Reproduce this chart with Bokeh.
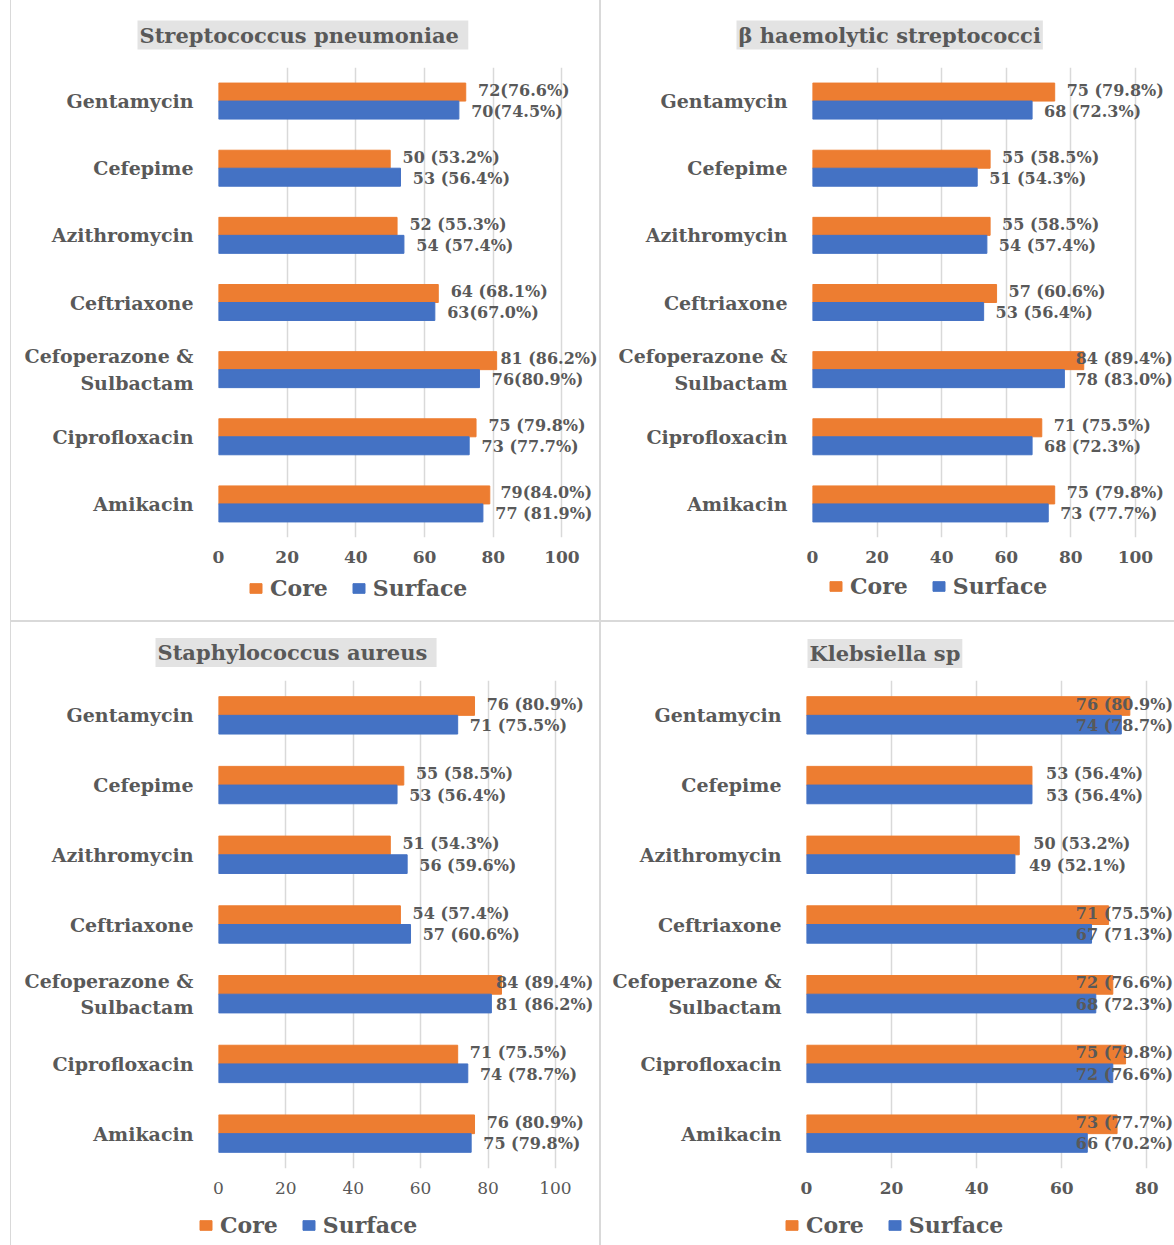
from bokeh.plotting import figure
from bokeh.models import (ColumnDataSource, FactorRange, Range1d, Legend, LegendItem,
                          FixedTicker, Div)
from bokeh.transform import dodge
from bokeh.layouts import row, column
from bokeh.core.properties import value
from bokeh.embed import file_html
from bokeh.resources import INLINE

# ---------------- data ----------------
antibiotics = ["Gentamycin", "Cefepime", "Azithromycin", "Ceftriaxone",
               "Cefoperazone &\nSulbactam", "Ciprofloxacin", "Amikacin"]
series_names = ["Core", "Surface"]

sp_title = "Streptococcus  pneumoniae"
sp_core = [72, 50, 52, 64, 81, 75, 79]
sp_surface = [70, 53, 54, 63, 76, 73, 77]
sp_core_lbl = ["72(76.6%)", "50 (53.2%)", "52 (55.3%)", "64 (68.1%)", "81 (86.2%)", "75 (79.8%)", "79(84.0%)"]
sp_surface_lbl = ["70(74.5%)", "53 (56.4%)", "54 (57.4%)", "63(67.0%)", "76(80.9%)", "73 (77.7%)", "77 (81.9%)"]
sp_ticks = [0, 20, 40, 60, 80, 100]

bh_title = "β haemolytic streptococci"
bh_core = [75, 55, 55, 57, 84, 71, 75]
bh_surface = [68, 51, 54, 53, 78, 68, 73]
bh_core_lbl = ["75 (79.8%)", "55 (58.5%)", "55 (58.5%)", "57 (60.6%)", "84 (89.4%)", "71 (75.5%)", "75 (79.8%)"]
bh_surface_lbl = ["68 (72.3%)", "51 (54.3%)", "54 (57.4%)", "53 (56.4%)", "78 (83.0%)", "68 (72.3%)", "73 (77.7%)"]
bh_ticks = [0, 20, 40, 60, 80, 100]

sa_title = "Staphylococcus  aureus"
sa_core = [76, 55, 51, 54, 84, 71, 76]
sa_surface = [71, 53, 56, 57, 81, 74, 75]
sa_core_lbl = ["76  (80.9%)", "55 (58.5%)", "51 (54.3%)", "54 (57.4%)", "84 (89.4%)", "71 (75.5%)", "76 (80.9%)"]
sa_surface_lbl = ["71 (75.5%)", "53 (56.4%)", "56 (59.6%)", "57 (60.6%)", "81 (86.2%)", "74 (78.7%)", "75 (79.8%)"]
sa_ticks = [0, 20, 40, 60, 80, 100]

kl_title = "Klebsiella sp"
kl_core = [76, 53, 50, 71, 72, 75, 73]
kl_surface = [74, 53, 49, 67, 68, 72, 66]
kl_core_lbl = ["76 (80.9%)", "53 (56.4%)", "50 (53.2%)", "71 (75.5%)", "72 (76.6%)", "75 (79.8%)", "73 (77.7%)"]
kl_surface_lbl = ["74 (78.7%)", "53 (56.4%)", "49 (52.1%)", "67 (71.3%)", "68 (72.3%)", "72 (76.6%)", "66 (70.2%)"]
kl_ticks = [0, 20, 40, 60, 80]

# ---------------- style ----------------
ORANGE = "#ED7D31"
BLUE = "#4472C4"
TXT = "#595959"
GRID = "#D9D9D9"
LINE = "#D9D9D9"
FONT = "DejaVu Serif"


def make_panel(title, core, surface, core_lbl, surf_lbl, ticks, width, height,
               b_left, b_right, b_top, b_bottom, x_end, gap, cap, tick_style,
               title_offset, title_standoff):
    src = ColumnDataSource(dict(
        cat=antibiotics, core=core, surface=surface,
        core_lbl=core_lbl, surf_lbl=surf_lbl,
        core_lx=[min(v + gap, cap) for v in core],
        surf_lx=[min(v + gap, cap) for v in surface],
    ))
    p = figure(width=width, height=height, output_backend="svg", toolbar_location=None,
               y_range=FactorRange(factors=antibiotics[::-1]), x_range=Range1d(0, x_end),
               min_border_left=b_left, min_border_right=b_right,
               min_border_top=b_top, min_border_bottom=b_bottom, title=title)
    p.outline_line_color = None
    p.background_fill_color = "white"
    p.border_fill_color = "white"

    h = 0.268
    p.hbar(y=dodge("cat", h / 2, range=p.y_range), left=0, right="core", height=h,
           color=ORANGE, source=src)
    p.hbar(y=dodge("cat", -h / 2, range=p.y_range), left=0, right="surface", height=h,
           color=BLUE, source=src)
    common = dict(text_font=value(FONT), text_font_style="bold", text_font_size="16px",
                  text_color=TXT, text_baseline="middle", text_align="left", source=src)
    p.text(x="core_lx", y=dodge("cat", h / 2, range=p.y_range), text="core_lbl",
           y_offset=-2, **common)
    p.text(x="surf_lx", y=dodge("cat", -h / 2, range=p.y_range), text="surf_lbl",
           y_offset=1, **common)

    p.xgrid.ticker = FixedTicker(ticks=ticks)
    p.xgrid.grid_line_color = GRID
    p.xgrid.grid_line_width = 1.5
    p.ygrid.grid_line_color = None

    xa = p.xaxis[0]
    xa.ticker = FixedTicker(ticks=ticks)
    xa.axis_line_color = None
    xa.major_tick_line_color = None
    xa.minor_tick_line_color = None
    xa.major_label_text_font = FONT
    xa.major_label_text_font_style = tick_style
    xa.major_label_text_font_size = "17px"
    xa.major_label_text_color = TXT
    xa.major_label_standoff = 7

    ya = p.yaxis[0]
    ya.axis_line_color = None
    ya.major_tick_line_color = None
    ya.minor_tick_line_color = None
    ya.major_label_text_font = FONT
    ya.major_label_text_font_style = "bold"
    ya.major_label_text_font_size = "19px"
    ya.major_label_text_color = TXT
    ya.major_label_standoff = 19

    t = p.title
    t.text_font = FONT
    t.text_font_style = "bold"
    t.text_font_size = "21px"
    t.text_color = TXT
    t.background_fill_color = "#E3E3E3"
    t.align = "left"
    t.offset = title_offset
    t.standoff = title_standoff
    t.padding = 2
    return p


def make_legend(width, height, lx, ly):
    lf = figure(width=width, height=height, output_backend="svg", toolbar_location=None,
                x_range=Range1d(0, 1), y_range=Range1d(0, 1), min_border=0,
                min_border_left=0, min_border_right=0, min_border_top=0, min_border_bottom=0,
                x_axis_location=None, y_axis_location=None)
    lf.outline_line_color = None
    lf.grid.visible = False
    # placeholder renderers (outside the visible range) that only supply legend swatches
    r_core = lf.hbar(y=[-5], left=[0], right=[0], height=0.1, color=ORANGE)
    r_surf = lf.hbar(y=[-5], left=[0], right=[0], height=0.1, color=BLUE)
    legend = Legend(items=[LegendItem(label=series_names[0], renderers=[r_core]),
                           LegendItem(label=series_names[1], renderers=[r_surf])],
                    orientation="horizontal", location=(lx, ly),
                    label_text_font=FONT, label_text_font_style="bold",
                    label_text_font_size="22px", label_text_color=TXT,
                    glyph_width=15, glyph_height=12, label_standoff=7, spacing=23,
                    padding=0, margin=0, border_line_color=None, background_fill_alpha=0)
    lf.add_layout(legend, "center")
    return lf


p1 = make_panel(sp_title, sp_core, sp_surface, sp_core_lbl, sp_surface_lbl, sp_ticks,
                588, 572, 207, 1, 67, 35, 110.66, 3.6, 82.1, "bold", -81, 36)
p2 = make_panel(bh_title, bh_core, bh_surface, bh_core_lbl, bh_surface_lbl, bh_ticks,
                573, 572, 211, 0, 67, 35, 112.1, 3.7, 81.5, "bold", -76, 36)
p3 = make_panel(sa_title, sa_core, sa_surface, sa_core_lbl, sa_surface_lbl, sa_ticks,
                588, 580, 207, 1, 58, 34, 112.8, 3.6, 82.4, "normal", -63, 27)
p4 = make_panel(kl_title, kl_core, kl_surface, kl_core_lbl, kl_surface_lbl, kl_ticks,
                573, 580, 205, 0, 56, 34, 86.5, 3.3, 63.3, "bold", 1, 25)

l1 = make_legend(588, 48, 237, 19)
l2 = make_legend(573, 48, 227, 21)
l3 = make_legend(588, 43, 187, 7)
l4 = make_legend(573, 43, 183, 7)


def vline(h, w=2, color=LINE):
    return Div(width=w, height=h, margin=0, styles={"background-color": color})


def blank(w, h):
    return Div(width=w, height=h, margin=0)


top_plots = row(blank(10, 572), vline(572, 1), p1, vline(572, 2), p2)
top_legends = row(blank(10, 48), vline(48, 1), l1, vline(48, 2), l2)
mid = row(blank(10, 2), vline(2, 1164))
bottom_plots = row(blank(10, 580), vline(580, 1), p3, vline(580, 2), p4)
bottom_legends = row(blank(10, 43), vline(43, 1), l3, vline(43, 2), l4)
layout = column(top_plots, top_legends, mid, bottom_plots, bottom_legends)

open("out.html", "w").write(file_html(layout, INLINE))
